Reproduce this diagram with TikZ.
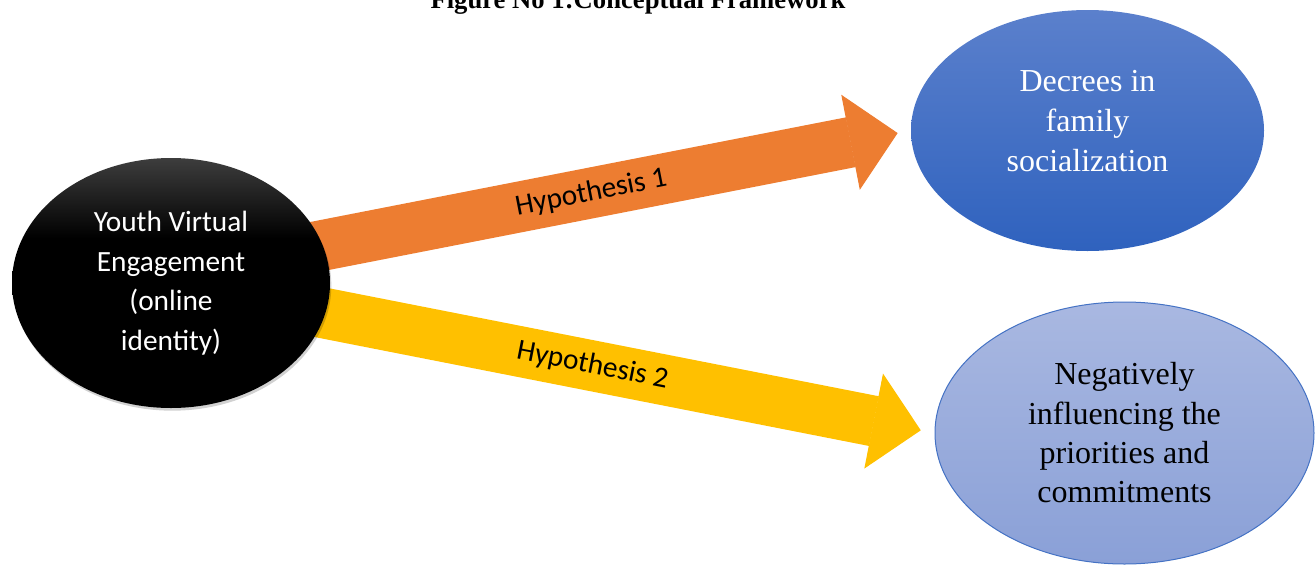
\documentclass[tikz,border=0pt]{standalone}
\usepackage{fontspec}
\setmainfont{Liberation Serif}
\newfontfamily\calibri{Carlito}
\usetikzlibrary{shapes.geometric,arrows.meta,backgrounds,shadows}
\definecolor{hypOrange}{HTML}{ED7D31}
\definecolor{hypYellow}{HTML}{FFC000}
\definecolor{dfsTop}{HTML}{5B80CC}
\definecolor{dfsBottom}{HTML}{2F62BE}
\definecolor{lavTop}{HTML}{A9B8E1}
\definecolor{lavBottom}{HTML}{8AA0D7}
\definecolor{rimBlue}{HTML}{4472C4}
\pgfdeclareverticalshading{yveshade}{100bp}{color(0bp)=(black); color(25bp)=(black);
  color(59bp)=(black); color(75bp)=(black!76); color(100bp)=(black!76)}

\begin{document}
\begin{tikzpicture}[x=0.75pt,y=-0.75pt,
  bubble/.style={ellipse,inner sep=0pt,align=center,font=\fontsize{24}{29.5}\selectfont},
  hyp/.style={line width=38pt,-{Triangle[length=36pt,width=72.5pt,line width=0.8pt]},shorten >=#1},
  hyplabel/.style={sloped,text=black,font=\calibri\fontsize{22}{26}\selectfont}]
  \useasboundingbox (0,0) rectangle (1315,565);
  \node (title) [anchor=base,font=\bfseries\fontsize{20}{24}\selectfont] at (638,8)
    {Figure No 1:Conceptual Framework};
  \node (yve) [bubble,minimum width=238.5pt,minimum height=187.5pt,
    shading=yveshade,text=white,
    font=\calibri\fontsize{22}{29.6}\selectfont,
    drop shadow={shadow xshift=1pt,shadow yshift=-2pt,opacity=0.18,fill=black}] at (171,283)
    {Youth Virtual\\Engagement\\(online\\identity)};
  \node (dfs) [bubble,minimum width=264.75pt,minimum height=180.75pt,
    top color=dfsTop,bottom color=dfsBottom,
    label={[text=white,align=center,font=\fontsize{24}{30}\selectfont,yshift=7pt]center:Decrees in\\family\\socialization}]
    at (1087.5,130.5) {};
  \node (lav) [bubble,minimum width=284.25pt,minimum height=196.5pt,
    top color=lavTop,bottom color=lavBottom,draw=rimBlue,line width=0.75pt] at (1124.5,433)
    {Negatively\\influencing the\\priorities and\\commitments};
  \begin{scope}[on background layer]
    \draw[hyp=10pt,hypOrange] ([yshift=6pt]yve.center) -- (dfs.west)
      node[hyplabel,pos=0.568] (h1) {Hypothesis 1};
    \draw[hyp=10.5pt,hypYellow] (yve.center) -- (lav.west)
      node[hyplabel,pos=0.552] (h2) {Hypothesis 2};
  \end{scope}
\end{tikzpicture}
\end{document}
